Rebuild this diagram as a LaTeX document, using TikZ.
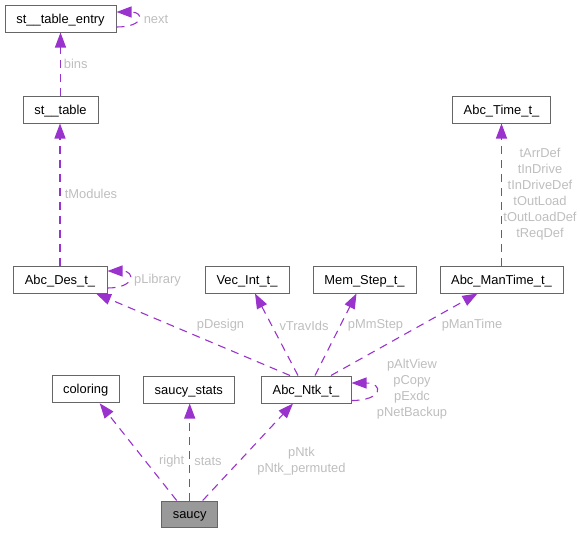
\documentclass[tikz,border=0pt]{standalone}
\usepackage{fontspec}
\setmainfont{Liberation Sans}
\usetikzlibrary{arrows.meta,calc}
\definecolor{edgec}{HTML}{9A32CD}
\definecolor{labc}{HTML}{BEBEBE}
\definecolor{bordc}{HTML}{666666}
\definecolor{fillc}{HTML}{999999}
\begin{document}
\begin{tikzpicture}[x=1pt,y=-1pt,
 box/.style={draw=bordc, line width=1pt, minimum height=27pt, inner sep=0pt, text height=12pt, text depth=3pt, font=\fontsize{12.9}{16}\selectfont, text=black},
 rel/.style={draw=edgec, line width=1.1pt, dash pattern=on 8pt off 6pt, -{Triangle[length=15pt,width=11pt,fill=edgec]}},
 lab/.style={text=labc, font=\fontsize{12.9}{16}\selectfont, align=center, inner sep=0pt}]
\useasboundingbox (0,0) rectangle (581,533);
% nodes
\node[box, minimum width=111pt] (ste) at (60.5,18.5) {st\_\_table\_entry};
\node[box, minimum width=75pt] (st) at (60.5,109.5) {st\_\_table};
\node[box, minimum width=94pt] (des) at (60,279.5) {Abc\_Des\_t\_};
\node[box, minimum width=84pt] (vec) at (247,279.5) {Vec\_Int\_t\_};
\node[box, minimum width=103pt] (mem) at (364.5,279.5) {Mem\_Step\_t\_};
\node[box, minimum width=123pt] (mant) at (501.5,279.5) {Abc\_ManTime\_t\_};
\node[box, minimum width=98pt] (time) at (501.5,109.5) {Abc\_Time\_t\_};
\node[box, minimum width=90pt] (ntk) at (306,389.5) {Abc\_Ntk\_t\_};
\node[box, minimum width=67pt] (col) at (85.7,389.3) {coloring};
\node[box, minimum width=91pt] (stats) at (188.8,389.5) {saucy\_stats};
\node[box, minimum width=56pt, minimum height=26pt, fill=fillc] (saucy) at (189.7,514) {saucy};
% edges
\draw[rel] (st.north) -- (ste.south);
\draw[rel] ([yshift=-8.5pt]ste.east) .. controls +(28pt,0pt) and +(28pt,0pt) .. ([yshift=6.5pt]ste.east);
\draw[rel] (des.north) -- (des.north |- st.south);
\draw[rel] ([yshift=-8.5pt]des.east) .. controls +(28pt,0pt) and +(28pt,0pt) .. ([yshift=8.5pt]des.east);
\draw[rel] ([xshift=-16pt]ntk.north) -- ([xshift=36pt]des.south);
\draw[rel] ([xshift=-8pt]ntk.north) -- ([xshift=8pt]vec.south);
\draw[rel] ([xshift=9pt]ntk.north) -- ([xshift=-8pt]mem.south);
\draw[rel] ([xshift=25pt]ntk.north) -- ([xshift=-24pt]mant.south);
\draw[rel] (mant.north) -- (time.south);
\draw[rel] ([yshift=-11pt]ntk.east) .. controls +(32pt,0pt) and +(32pt,0pt) .. ([yshift=6.5pt]ntk.east);
\draw[rel] ([xshift=-13pt]saucy.north) -- ([xshift=14pt]col.south);
\draw[rel] (saucy.north) -- (saucy.north |- stats.south);
\draw[rel] ([xshift=13pt]saucy.north) -- ([xshift=-13pt]ntk.south);
% labels
\node[lab] (lbins) at (75.7,63.5) {bins};
\node[lab] (lnext) at (156,19) {next};
\node[lab] (ltmod) at (91,194) {tModules};
\node[lab] (lplib) at (157.5,280.5) {pLibrary};
\node[lab] (lpdes) at (220.5,325.5) {pDesign};
\node[lab] (lvtr) at (304,325.5) {vTravIds};
\node[lab] (lpmm) at (375.5,325.5) {pMmStep};
\node[lab] (lpman) at (472,325.5) {pManTime};
\node[lab] (ltime) at (540,194.3) {tArrDef\\tInDrive\\tInDriveDef\\tOutLoad\\tOutLoadDef\\tReqDef};
\node[lab] (lntk) at (412,389.5) {pAltView\\pCopy\\pExdc\\pNetBackup};
\node[lab] (lright) at (171.7,461) {right};
\node[lab] (lstats) at (208,461) {stats};
\node[lab] (lpntk) at (301.5,461) {pNtk\\pNtk\_permuted};
\end{tikzpicture}
\end{document}
